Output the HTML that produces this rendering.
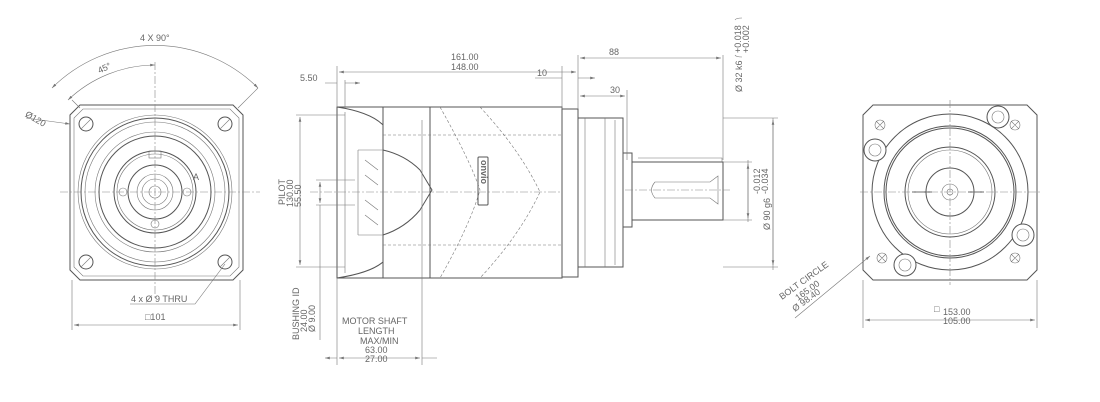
<!DOCTYPE html>
<html><head><meta charset="utf-8"><style>
html,body{margin:0;padding:0;background:#fff;}
svg{display:block;font-family:"Liberation Sans",sans-serif;}
text{fill:#666;font-size:9px;}
.l{stroke:#555;stroke-width:1;fill:none;}
.t{stroke:#777;stroke-width:0.6;fill:none;}
.d{stroke:#888;stroke-width:0.6;fill:none;stroke-dasharray:8 2 2 2;}
.h{stroke:#777;stroke-width:0.6;fill:none;stroke-dasharray:3 2;}
</style></head><body>
<svg width="1100" height="402" viewBox="0 0 1100 402" xmlns="http://www.w3.org/2000/svg">
<defs><marker id="a" markerWidth="8" markerHeight="6" refX="8" refY="3" orient="auto-start-reverse"><path d="M0,0.8 L8,3 L0,5.2z" fill="#777"/></marker></defs>

<!-- LEFT VIEW -->
<g>
<path class="l" d="M80,105 L233,105 L243,115 L243,270 L233,280 L80,280 L70,270 L70,115z"/>
<path class="t" d="M83,109 L230,109 L239,118 L239,267 L230,276 L83,276 L74,267 L74,118z"/>
<circle class="t" cx="155" cy="192" r="77"/>
<circle class="l" cx="155" cy="192" r="74"/>
<circle class="t" cx="155" cy="192" r="70"/>
<circle class="t" cx="155" cy="192" r="60"/>
<circle class="l" cx="155" cy="192" r="56"/>
<circle class="l" cx="155" cy="192" r="41"/>
<circle class="t" cx="155" cy="192" r="38"/>
<circle class="l" cx="155" cy="192" r="27"/>
<circle class="t" cx="155" cy="192" r="18"/>
<circle class="t" cx="155" cy="192" r="13"/>
<circle class="t" cx="155" cy="192" r="6"/>
<circle class="t" cx="123" cy="192" r="4"/><circle class="t" cx="187" cy="192" r="4"/><circle class="t" cx="155" cy="224" r="4"/>
<rect class="t" x="149" y="151" width="12" height="7"/>
<text x="193" y="180" font-size="10">A</text>
<g class="l"><circle cx="86" cy="124" r="7"/><circle cx="225" cy="124" r="7"/><circle cx="86" cy="262" r="7"/><circle cx="225" cy="262" r="7"/></g>
<g class="t"><path d="M81,129 L91,119 M220,129 L230,119 M81,267 L91,257 M220,267 L230,257"/></g>
<path class="d" d="M155,62 V300 M60,192 H260"/>
<path class="t" d="M52,88 A146,146 0 0 1 258,88" marker-start="url(#a)" marker-end="url(#a)"/>
<path class="t" d="M68,100 A127,127 0 0 1 155,65" marker-start="url(#a)" marker-end="url(#a)"/>
<path class="t" d="M72,100 L80,108 M238,108 L258,88"/>
<text x="140" y="41">4 X 90°</text>
<text x="98" y="73" transform="rotate(-25 100 70)">45°</text>
<path class="t" d="M26,118 L70,124" marker-end="url(#a)"/>
<text x="24" y="118" transform="rotate(30 28 118)">Ø120</text>
<path class="t" d="M130,304 H195 L225,264"/>
<text x="131" y="302">4 x Ø 9 THRU</text>
<path class="t" d="M72,280 V330 M240,280 V330"/>
<path class="t" d="M74,325 H238" marker-start="url(#a)" marker-end="url(#a)"/>
<text x="145" y="320">□101</text>
</g>

<!-- MIDDLE VIEW -->
<g>
<path class="l" d="M337,107 H562 V278 H337z"/>
<path class="l" d="M383,107 V278 M430,107 V278"/>
<path class="l" d="M562,109 H578 V277 H562"/>
<path class="l" d="M578,118 H623 V267 H578"/>
<path class="t" d="M585,118 V267 M605,118 V267 M615,120 V265"/>
<path class="l" d="M623,153 H632 V227 H623"/>
<path class="l" d="M632,162 H723 V220 H632"/>
<path class="t" d="M638,158 H722 V162"/>
<path class="t" d="M655,182 Q648,190 655,198 H710 L718,204 V176 L710,182z"/>
<path class="l" d="M337,107 Q370,112 383,125 M337,278 Q370,273 383,262"/>
<path class="t" d="M345,112 V273 M358,150 H383 M358,235 H383 M358,150 V235"/>
<path class="l" d="M383,150 Q405,155 420,170 L432,190 L420,210 Q405,228 383,235"/>
<path class="t" d="M365,160 L378,170 M365,175 L378,185 M365,200 L378,210 M365,215 L378,225"/>
<path class="h" d="M440,107 Q470,160 480,190 Q470,225 440,278 M480,107 Q520,150 540,192 Q520,235 480,278 M383,135 H562 M383,245 H562"/>
<path class="d" d="M310,192 H560 M625,190 H730"/>
<rect class="l" x="478" y="157" width="10" height="48" rx="1"/>
<text x="481" y="160" transform="rotate(90 481 160)" font-size="10" style="font-weight:bold">onvio</text>
<!-- dims -->
<path class="t" d="M337,66 V107 M578,55 V109 M562,66 V109 M723,55 V160 M627,90 V160 M345,80 V108 M773,118 V270 M748,160 V222"/>
<path class="t" d="M339,72 H576" marker-start="url(#a)" marker-end="url(#a)"/>
<text x="451" y="60">161.00</text><text x="451" y="70">148.00</text>
<path class="t" d="M325,83 H337 M345,83 H360" marker-end="url(#a)"/>
<text x="300" y="81">5.50</text>
<path class="t" d="M535,78 H562 M578,78 H595" marker-end="url(#a)"/>
<text x="537" y="76">10</text>
<path class="t" d="M580,58 H721" marker-start="url(#a)" marker-end="url(#a)"/>
<text x="609" y="55">88</text>
<path class="t" d="M580,96 H625" marker-start="url(#a)" marker-end="url(#a)"/>
<text x="610" y="93">30</text>
<path class="t" d="M296,115 H345 M296,267 H345"/>
<path class="t" d="M300,117 V265" marker-start="url(#a)" marker-end="url(#a)"/>
<text transform="translate(285,205) rotate(-90)">PILOT</text>
<text transform="translate(293,207) rotate(-90)">130.00</text>
<text transform="translate(301,207) rotate(-90)">55.50</text>
<path class="t" d="M316,180 H355 M316,205 H355"/>
<path class="t" d="M320,182 V203" marker-start="url(#a)" marker-end="url(#a)"/>
<path class="t" d="M320,205 V340"/>
<text transform="translate(299,340) rotate(-90)">BUSHING ID</text>
<text transform="translate(307,332) rotate(-90)">24.00</text>
<text transform="translate(315,332) rotate(-90)">Ø 9.00</text>
<path class="t" d="M337,278 V365 M422,120 V365"/>
<path class="t" d="M325,358 H337 M422,358 H437" marker-start="url(#a)"/>
<path class="t" d="M339,358 H420" marker-start="url(#a)" marker-end="url(#a)"/>
<text x="342" y="324">MOTOR SHAFT</text>
<text x="358" y="334">LENGTH</text>
<text x="360" y="344">MAX/MIN</text>
<text x="365" y="353">63.00</text>
<text x="365" y="362">27.00</text>
<path class="t" d="M723,118 H778 M723,267 H778 M723,162 H752 M723,220 H752"/>
<path class="t" d="M773,120 V265" marker-start="url(#a)" marker-end="url(#a)"/>
<path class="t" d="M748,164 V218" marker-start="url(#a)" marker-end="url(#a)"/>
<text transform="translate(742,92) rotate(-90)">Ø 32 k6</text>
<path class="t" d="M735,55 Q736,57 742,57 M735,20 Q736,18 742,18"/>
<text transform="translate(741,53) rotate(-90)" font-size="8">+0.018</text>
<text transform="translate(749,53) rotate(-90)" font-size="8">+0.002</text>
<text transform="translate(770,230) rotate(-90)">Ø 90 g6</text>
<text transform="translate(760,194) rotate(-90)" font-size="8">-0.012</text>
<text transform="translate(768,194) rotate(-90)" font-size="8">-0.034</text>
</g>

<!-- RIGHT VIEW -->
<g>
<path class="l" d="M873,105 H1027 L1037,115 V270 L1027,280 H873 L863,270 V115z"/>
<circle class="l" cx="950" cy="192" r="78"/>
<circle class="l" cx="950" cy="192" r="66"/>
<circle class="l" cx="950" cy="192" r="64"/>
<circle class="l" cx="950" cy="192" r="45"/>
<circle class="t" cx="950" cy="192" r="42"/>
<circle class="l" cx="950" cy="192" r="24"/>
<circle class="t" cx="950" cy="192" r="8"/>
<circle class="t" cx="950" cy="192" r="3"/>
<path class="l" d="M912,192 H932 M968,192 H984"/>
<g class="l"><circle cx="998" cy="117" r="11" fill="#fff"/><circle cx="875" cy="150" r="11" fill="#fff"/><circle cx="1023" cy="235" r="11" fill="#fff"/><circle cx="905" cy="265" r="11" fill="#fff"/></g>
<g class="t"><circle cx="998" cy="117" r="6"/><circle cx="875" cy="150" r="6"/><circle cx="1023" cy="235" r="6"/><circle cx="905" cy="265" r="6"/></g>
<g class="t"><circle cx="880" cy="125" r="5"/><circle cx="1015" cy="125" r="5"/><circle cx="882" cy="258" r="5"/><circle cx="1015" cy="258" r="5"/>
<path d="M876,121 L884,129 M884,121 L876,129 M1011,121 L1019,129 M1019,121 L1011,129 M878,254 L886,262 M886,254 L878,262 M1011,254 L1019,262 M1019,254 L1011,262"/></g>
<path class="d" d="M950,100 V285 M860,192 H1040"/>
<path class="t" d="M863,280 V328 M1037,280 V328"/>
<path class="t" d="M865,320 H1035" marker-start="url(#a)" marker-end="url(#a)"/>
<text x="934" y="312" font-size="8">□</text>
<text x="943" y="315">153.00</text><text x="943" y="324">105.00</text>
<path class="t" d="M795,318 L870,256" marker-end="url(#a)"/>
<text transform="translate(782,300) rotate(-36)">BOLT CIRCLE</text>
<text transform="translate(798,301) rotate(-36)">165.00</text>
<text transform="translate(795,312) rotate(-36)">Ø 98.40</text>
</g>
</svg>
</body></html>
